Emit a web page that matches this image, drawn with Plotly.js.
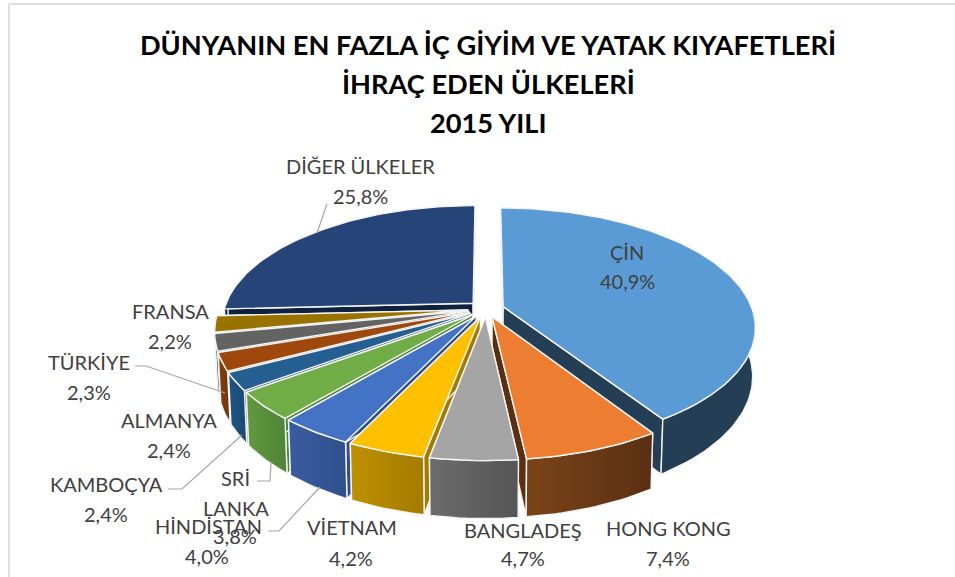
<!DOCTYPE html>
<html><head><meta charset="utf-8">
<script src="https://cdn.plot.ly/plotly-3.0.1.min.js"></script>
<style>html,body{margin:0;padding:0;background:#fff}#c{width:955px;height:577px}</style>
</head><body><div id="c"></div>
<script>
// ---- data ----
const countries = ['ÇİN','HONG KONG','BANGLADEŞ','VİETNAM','HİNDİSTAN','SRİ LANKA','KAMBOÇYA','ALMANYA','TÜRKİYE','FRANSA','DİĞER ÜLKELER'];
const shares = [40.9,7.4,4.7,4.2,4.0,3.8,2.4,2.4,2.3,2.2,25.8];
const topColors = ['#5B9BD5','#ED7D31','#A5A5A5','#FFC000','#4472C4','#70AD47','#255E91','#9E480E','#636363','#997300','#264478'];
const sideLeft  = ['#243F55','#7A4418','#6C6C6C','#BE9000','#3A5CA0','#62993F','#1E5484','#85400F','#555555','#806000','#0E2240'];
const sideRight = ['#243F55','#5A2F12','#555555','#A47B00','#2F4F8C','#4E8437','#1A4A75','#6E350C','#484848','#6B5000','#0E2240'];
const drawOrder = [10,0,9,8,7,6,5,4,3,1,2];
// label lines, one row per text: text index, line of text, centre x, centre y
const labelRows = [
 [10,'DİĞER ÜLKELER',360,166],[10,null,360,196],
 [0,'ÇİN',627,252],[0,null,627,281],
 [9,'FRANSA',170,311],[9,null,170,341],
 [8,'TÜRKİYE',89,362],[8,null,89,392],
 [7,'ALMANYA',169,420],[7,null,169,450],
 [6,'KAMBOÇYA',106,484],[6,null,106,514],
 [5,'SRİ',235,478],[5,'LANKA',236,508],[5,null,235,536],
 [4,'HİNDİSTAN',208,526],[4,null,207,556],
 [3,'VİETNAM',352,527],[3,null,351,558],
 [2,'BANGLADEŞ',523,530],[2,null,523,558],
 [1,'HONG KONG',668,528],[1,null,668,558]
];
const leaders = [
 [[327,204],[317,233]],
 [[135,366],[146,366],[225,393]],
 [[168,489],[182,489],[242,435]],
 [[257,481],[270,481],[271,462]],
 [[268,531],[279,531],[320,487]]
];
const titleLines = ['DÜNYANIN EN FAZLA İÇ GİYİM VE YATAK KIYAFETLERİ','İHRAÇ EDEN ÜLKELERİ','2015 YILI'];
const titleYs = [45,83.5,122];

// ---- projection of the tilted pie onto the pixel-scaled axes ----
const view = {hx:486, hy:309, Rx:249, Ry:116, k:0.168, d:0.072, depth:47.5, shrink:0.99};
function proj(X,Y,low){
  const s = 1/(1+view.k*Y);
  return [view.hx + view.Rx*X*s*(low?view.shrink:1),
          view.hy - view.Ry*Y*s + (low?view.depth*s:0)];
}
const total = shares.reduce((a,b)=>a+b,0);
let acc = 0;
const slices = shares.map(v=>{const a0=acc/total*2*Math.PI; acc+=v; return {a0,a1:acc/total*2*Math.PI};});
function rimPts(i,low,frontOnly){
  const {a0,a1}=slices[i], m=(a0+a1)/2, n=Math.max(4,Math.ceil((a1-a0)*40)), p=[];
  for(let j=0;j<=n;j++){
    const t=a0+(a1-a0)*j/n;
    if(frontOnly && Math.cos(t)>0.05) continue;
    p.push(proj(Math.sin(t)+view.d*Math.sin(m),Math.cos(t)+view.d*Math.cos(m),low));
  }
  return p;
}
function apex(i,low){const m=(slices[i].a0+slices[i].a1)/2;return proj(view.d*Math.sin(m),view.d*Math.cos(m),low);}
function poly(pts,color,grad){
  const c=pts.concat([pts[0]]);
  const t={type:'scatter',mode:'lines',x:c.map(p=>p[0]),y:c.map(p=>p[1]),fill:'toself',fillcolor:color,
    line:{color:'#F4F4F4',width:1.4},hoverinfo:'skip',showlegend:false};
  if(grad) t.fillgradient={type:'horizontal',colorscale:[[0,grad[0]],[1,grad[1]]]};
  return t;
}
const traces=[];
drawOrder.forEach(i=>{
  const top=rimPts(i,false,false), low=rimPts(i,true,false);
  const A=apex(i,false), B=apex(i,true);
  traces.push(poly([A,top[0],low[0],B],sideRight[i]));
  traces.push(poly([A,top[top.length-1],low[low.length-1],B],sideRight[i]));
  const ft=rimPts(i,false,true), fl=rimPts(i,true,true);
  if(ft.length>2) traces.push(poly(ft.concat(fl.reverse()),sideLeft[i],[sideLeft[i],sideRight[i]]));
  traces.push(poly([A].concat(top),topColors[i]));
});
const labelFont={family:'Lato, Carlito, sans-serif',size:20,color:'#404040'};
const titleFont={family:'Lato, Carlito, sans-serif',size:27.2,color:'#000',weight:700};
const annotations=labelRows.map(r=>({
  xref:'x',yref:'y',x:r[2],y:r[3],xanchor:'center',yanchor:'middle',showarrow:false,
  text:r[1]===null?shares[r[0]].toFixed(1).replace('.',',')+'%':r[1],font:labelFont
})).concat(titleLines.slice(1).map((t,i)=>({
  xref:'x',yref:'y',x:488,y:titleYs[i+1],xanchor:'center',yanchor:'middle',showarrow:false,text:t,font:titleFont
})));
const lineShapes=leaders.map(l=>({type:'path',xref:'x',yref:'y',
  path:'M'+l.map(p=>p[0]+','+p[1]).join('L'),line:{color:'#A6A6A6',width:1.2}}));
const frame=[
 {type:'line',xref:'x',yref:'y',x0:9,x1:955,y0:4,y1:4,line:{color:'#E0E0E0',width:2}},
 {type:'line',xref:'x',yref:'y',x0:9,x1:9,y0:4,y1:577,line:{color:'#E0E0E0',width:2}}
];
Plotly.newPlot('c',traces,{
  width:955,height:577,margin:{l:0,r:0,t:0,b:0},paper_bgcolor:'#fff',plot_bgcolor:'#fff',showlegend:false,
  xaxis:{range:[0,955],visible:false,fixedrange:true},
  yaxis:{range:[577,0],visible:false,fixedrange:true},
  title:{text:titleLines[0],x:488/955,xanchor:'center',y:1-titleYs[0]/577,yanchor:'middle',font:titleFont},
  annotations,shapes:frame.concat(lineShapes)
},{staticPlot:true,displayModeBar:false});
</script></body></html>
